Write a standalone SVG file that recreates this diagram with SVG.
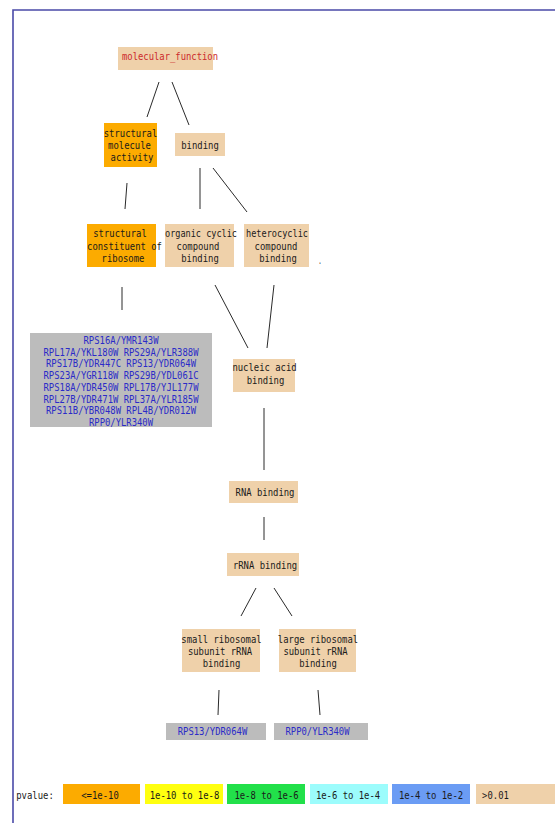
<svg xmlns="http://www.w3.org/2000/svg" width="555" height="823" viewBox="0 0 555 823">
<style>
text{font-family:"DejaVu Sans Mono","Liberation Mono",monospace;font-size:10.5px;fill:#1a1a1a;text-anchor:middle}
.mf{fill:#cc2a2a}
.g{fill:#2b2bc8;font-size:9.8px}
.beige{fill:#efd1aa}
.orange{fill:#fcab00}
.gray{fill:#bcbcbc}
.cn line{stroke:#2a2a2a;stroke-width:1}
.lg{font-size:10px}
</style>
<rect width="555" height="823" fill="#fff"/>
<path d="M13,823 V10 H555" fill="none" stroke="#4a4aa8" stroke-width="1.6"/>

<g id="connectors" class="cn">
<line x1="159" y1="82" x2="147" y2="117"/>
<line x1="172" y1="82" x2="189" y2="125"/>
<line x1="127" y1="183" x2="125" y2="209"/>
<line x1="200" y1="168" x2="200" y2="209"/>
<line x1="213" y1="168" x2="247" y2="212"/>
<line x1="122" y1="287" x2="122" y2="310"/>
<line x1="215" y1="285" x2="248" y2="348"/>
<line x1="274" y1="285" x2="267" y2="348"/>
<line x1="264" y1="408" x2="264" y2="470"/>
<line x1="264" y1="517" x2="264" y2="540"/>
<line x1="256" y1="588" x2="241" y2="616"/>
<line x1="274" y1="588" x2="292" y2="616"/>
<line x1="219" y1="690" x2="218" y2="715"/>
<line x1="318" y1="690" x2="320" y2="715"/>
</g>

<g id="molecular_function">
<rect class="beige" x="118" y="47" width="95" height="23"/>
<text class="mf" x="170" y="60" textLength="96" lengthAdjust="spacingAndGlyphs">molecular_function</text>
</g>

<g id="structural_molecule_activity">
<rect class="orange" x="104" y="123" width="53" height="44"/>
<text x="130.5" y="137" textLength="53.5" lengthAdjust="spacingAndGlyphs">structural</text>
<text x="129.5" y="149" textLength="42.8" lengthAdjust="spacingAndGlyphs">molecule</text>
<text x="132" y="161" textLength="42.8" lengthAdjust="spacingAndGlyphs">activity</text>
</g>

<g id="binding">
<rect class="beige" x="175" y="133" width="50" height="23"/>
<text x="200" y="148.5" textLength="37.5" lengthAdjust="spacingAndGlyphs">binding</text>
</g>

<g id="structural_constituent_of_ribosome">
<rect class="orange" x="87" y="224" width="69" height="43"/>
<text x="120" y="237" textLength="53.5" lengthAdjust="spacingAndGlyphs">structural</text>
<text x="124.5" y="250" textLength="74.9" lengthAdjust="spacingAndGlyphs">constituent of</text>
<text x="123" y="262" textLength="42.8" lengthAdjust="spacingAndGlyphs">ribosome</text>
</g>

<g id="organic_cyclic_compound_binding">
<rect class="beige" x="165" y="224" width="69" height="43"/>
<text x="201" y="237" textLength="72" lengthAdjust="spacingAndGlyphs">organic cyclic</text>
<text x="198" y="250" textLength="42.8" lengthAdjust="spacingAndGlyphs">compound</text>
<text x="200" y="262" textLength="37.5" lengthAdjust="spacingAndGlyphs">binding</text>
</g>

<g id="heterocyclic_compound_binding">
<rect class="beige" x="244" y="224" width="65" height="43"/>
<text x="277" y="237" textLength="62" lengthAdjust="spacingAndGlyphs">heterocyclic</text>
<text x="276" y="250" textLength="42.8" lengthAdjust="spacingAndGlyphs">compound</text>
<text x="278" y="262" textLength="37.5" lengthAdjust="spacingAndGlyphs">binding</text>
</g>
<text x="320" y="264" textLength="3" lengthAdjust="spacingAndGlyphs">.</text>

<g id="genes_ribosome">
<rect class="gray" x="30" y="333" width="182" height="94"/>
<text class="g" x="121" y="344" textLength="75" lengthAdjust="spacingAndGlyphs">RPS16A/YMR143W</text>
<text class="g" x="121" y="355.7" textLength="155" lengthAdjust="spacingAndGlyphs">RPL17A/YKL180W RPS29A/YLR388W</text>
<text class="g" x="121" y="367.4" textLength="150" lengthAdjust="spacingAndGlyphs">RPS17B/YDR447C RPS13/YDR064W</text>
<text class="g" x="121" y="379.1" textLength="155" lengthAdjust="spacingAndGlyphs">RPS23A/YGR118W RPS29B/YDL061C</text>
<text class="g" x="121" y="390.8" textLength="155" lengthAdjust="spacingAndGlyphs">RPS18A/YDR450W RPL17B/YJL177W</text>
<text class="g" x="121" y="402.5" textLength="155" lengthAdjust="spacingAndGlyphs">RPL27B/YDR471W RPL37A/YLR185W</text>
<text class="g" x="121" y="414.2" textLength="150" lengthAdjust="spacingAndGlyphs">RPS11B/YBR048W RPL4B/YDR012W</text>
<text class="g" x="121" y="426" textLength="64" lengthAdjust="spacingAndGlyphs">RPP0/YLR340W</text>
</g>

<g id="nucleic_acid_binding">
<rect class="beige" x="233" y="359" width="62" height="33"/>
<text x="264.5" y="371" textLength="64.2" lengthAdjust="spacingAndGlyphs">nucleic acid</text>
<text x="265.5" y="384" textLength="37.5" lengthAdjust="spacingAndGlyphs">binding</text>
</g>

<g id="RNA_binding">
<rect class="beige" x="229" y="481" width="69" height="22"/>
<text x="265" y="496" textLength="58.9" lengthAdjust="spacingAndGlyphs">RNA binding</text>
</g>

<g id="rRNA_binding">
<rect class="beige" x="227" y="553" width="72" height="23"/>
<text x="265" y="568.5" textLength="64.2" lengthAdjust="spacingAndGlyphs">rRNA binding</text>
</g>

<g id="small_ribosomal_subunit_rRNA_binding">
<rect class="beige" x="182" y="629" width="78" height="43"/>
<text x="221.5" y="643" textLength="80.3" lengthAdjust="spacingAndGlyphs">small ribosomal</text>
<text x="220" y="655" textLength="64.2" lengthAdjust="spacingAndGlyphs">subunit rRNA</text>
<text x="221.5" y="667" textLength="37.5" lengthAdjust="spacingAndGlyphs">binding</text>
</g>

<g id="large_ribosomal_subunit_rRNA_binding">
<rect class="beige" x="279" y="629" width="77" height="43"/>
<text x="318" y="643" textLength="80.3" lengthAdjust="spacingAndGlyphs">large ribosomal</text>
<text x="315.5" y="655" textLength="64.2" lengthAdjust="spacingAndGlyphs">subunit rRNA</text>
<text x="318" y="667" textLength="37.5" lengthAdjust="spacingAndGlyphs">binding</text>
</g>

<g id="genes_small">
<rect class="gray" x="166" y="723" width="100" height="17"/>
<text class="g" x="212.5" y="735" textLength="69.6" lengthAdjust="spacingAndGlyphs">RPS13/YDR064W</text>
</g>

<g id="genes_large">
<rect class="gray" x="274" y="723" width="94" height="17"/>
<text class="g" x="317.5" y="735" textLength="64" lengthAdjust="spacingAndGlyphs">RPP0/YLR340W</text>
</g>

<g id="legend">
<text class="lg" x="35" y="799" textLength="37.5" lengthAdjust="spacingAndGlyphs">pvalue:</text>
<rect x="63" y="784" width="77" height="20" fill="#fcab00"/>
<text class="lg" x="100" y="799" textLength="37.5" lengthAdjust="spacingAndGlyphs">&lt;=1e-10</text>
<rect x="145" y="784" width="78" height="20" fill="#ffff10"/>
<text class="lg" x="184.5" y="799" textLength="69.6" lengthAdjust="spacingAndGlyphs">1e-10 to 1e-8</text>
<rect x="227" y="784" width="78" height="20" fill="#22e04a"/>
<text class="lg" x="266.5" y="799" textLength="64.2" lengthAdjust="spacingAndGlyphs">1e-8 to 1e-6</text>
<rect x="310" y="784" width="78" height="20" fill="#9cfcfc"/>
<text class="lg" x="348" y="799" textLength="64.2" lengthAdjust="spacingAndGlyphs">1e-6 to 1e-4</text>
<rect x="392" y="784" width="78" height="20" fill="#6b9cf4"/>
<text class="lg" x="431" y="799" textLength="64.2" lengthAdjust="spacingAndGlyphs">1e-4 to 1e-2</text>
<rect class="beige" x="476" y="784" width="79" height="20"/>
<text class="lg" x="495.5" y="799" textLength="26.8" lengthAdjust="spacingAndGlyphs">&gt;0.01</text>
</g>
</svg>
